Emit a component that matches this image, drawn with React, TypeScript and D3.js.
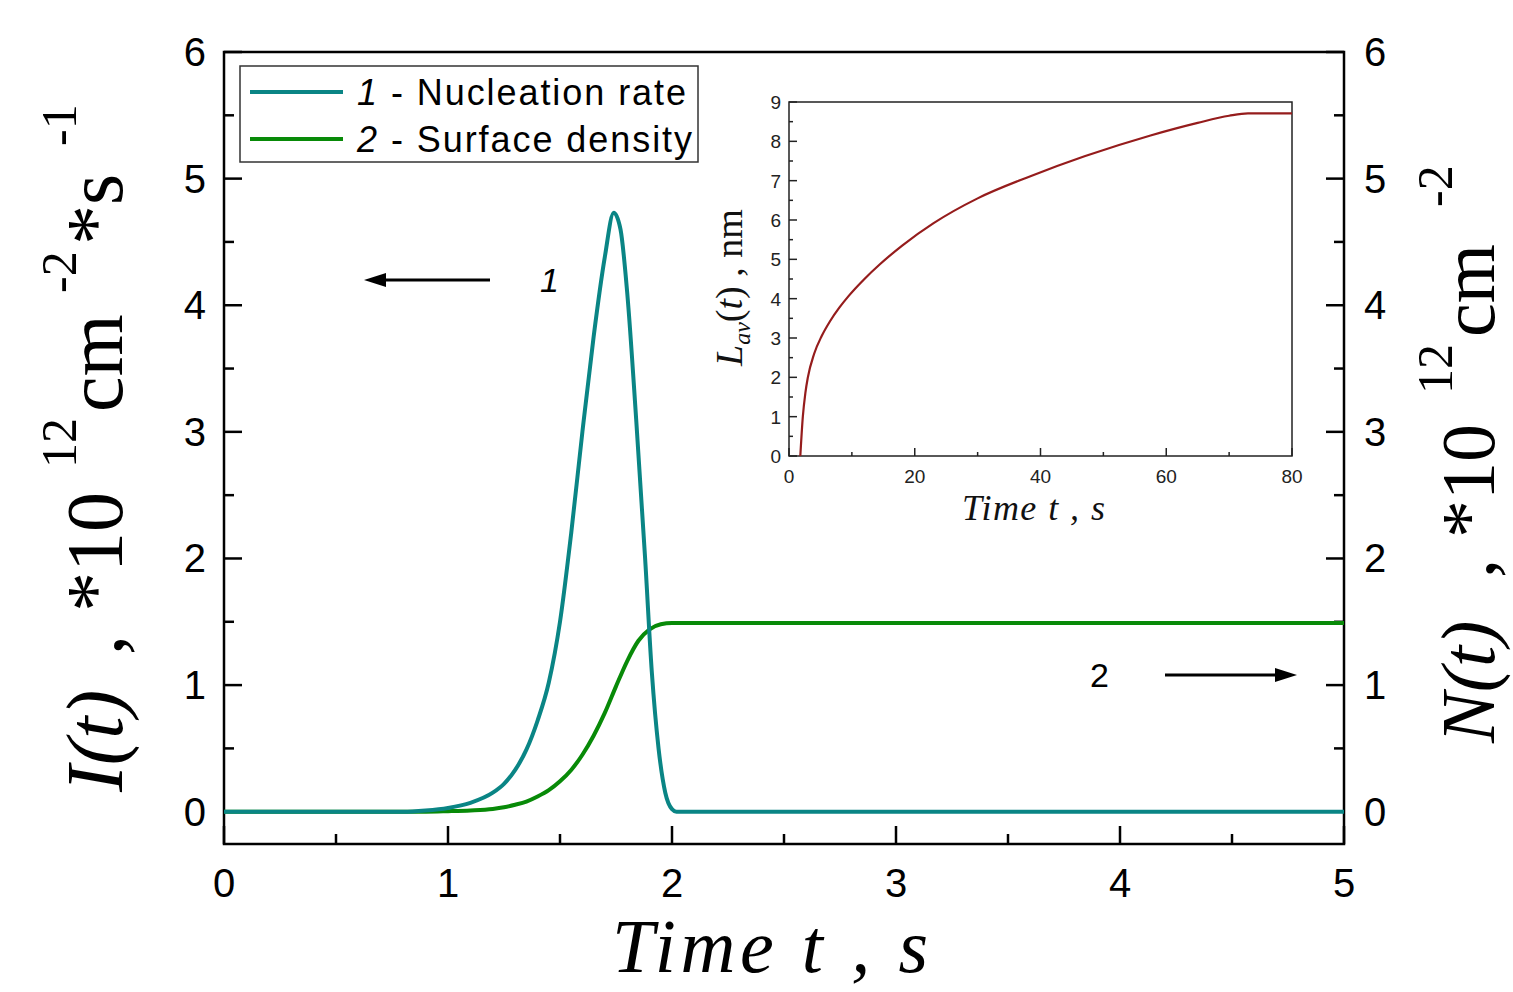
import React from "react";
import * as d3 from "d3";

// curve 1: nucleation rate I(t), 10^12 cm^-2 s^-1
const nucTime = [0, 0.8, 0.9, 1.0, 1.1, 1.2, 1.25, 1.3, 1.35, 1.4, 1.45, 1.5, 1.55, 1.6, 1.65, 1.7, 1.74, 1.77, 1.8, 1.84, 1.88, 1.91, 1.94, 1.97, 2.0, 2.02, 5];
const nucRate = [0, 0, 0.01, 0.03, 0.07, 0.15, 0.22, 0.33, 0.49, 0.72, 1.02, 1.5, 2.2, 3.0, 3.75, 4.38, 4.73, 4.6, 4.1, 3.1, 2.0, 1.1, 0.5, 0.15, 0.02, 0, 0];

// curve 2: surface density N(t), 10^12 cm^-2
const denTime = [0, 0.9, 1.0, 1.1, 1.2, 1.25, 1.3, 1.35, 1.4, 1.45, 1.5, 1.55, 1.6, 1.65, 1.7, 1.75, 1.8, 1.85, 1.9, 1.95, 2.0, 5];
const denValue = [0, 0, 0.004, 0.01, 0.022, 0.035, 0.055, 0.08, 0.12, 0.17, 0.24, 0.33, 0.45, 0.6, 0.78, 0.99, 1.19, 1.35, 1.44, 1.48, 1.49, 1.49];

// inset: average length L_av(t), nm
const insetTime = [1.8, 2.2, 2.6, 3.0, 4.0, 5.2, 6.5, 8, 9.5, 12, 14.5, 18, 23, 30, 38.5, 47, 57.5, 65, 70, 73, 80];
const insetLen = [0, 1.0, 1.6, 2.0, 2.6, 3.05, 3.42, 3.77, 4.07, 4.5, 4.88, 5.35, 5.92, 6.55, 7.12, 7.62, 8.15, 8.47, 8.65, 8.71, 8.71];

const xTicks = [0, 1, 2, 3, 4, 5];
const yTicks = [0, 1, 2, 3, 4, 5, 6];
const insetXTicks = [0, 20, 40, 60, 80];
const insetYTicks = [0, 1, 2, 3, 4, 5, 6, 7, 8, 9];

const SANS = "'Liberation Sans', Arial, sans-serif";
const SERIF = "'Liberation Serif', 'Times New Roman', serif";
const TEAL = "#0a8585";
const GREEN = "#088a08";
const DARKRED = "#951c1c";

export default function App() {
  const x = d3.scaleLinear().domain([0, 5]).range([224, 1344]);
  const y = d3.scaleLinear().domain([-0.255, 6]).range([844, 52]);
  const ix = d3.scaleLinear().domain([0, 80]).range([789, 1292]);
  const iy = d3.scaleLinear().domain([0, 9]).range([456, 102]);

  const line = (xs: number[], ys: number[], sx: any, sy: any) =>
    d3
      .line<number>()
      .x((_, i) => sx(xs[i]))
      .y((d) => sy(d))
      .curve(d3.curveMonotoneX)(ys) as string;

  const xMinor = d3.range(0.5, 5, 1);
  const yMinor = d3.range(-0.5, 6, 1).filter((v) => v > -0.255);
  const ixMinor = d3.range(10, 80, 20);
  const iyMinor = d3.range(0.5, 9, 1);

  const leftPieces = [
    { t: "I(t)", at: 792, italic: true, sup: false },
    { t: ",", at: 655, italic: false, sup: false },
    { t: "*10", at: 612, italic: false, sup: false },
    { t: "12", at: 468, italic: false, sup: true },
    { t: "cm", at: 412, italic: false, sup: false },
    { t: "-2", at: 293, italic: false, sup: true },
    { t: "*s", at: 245, italic: false, sup: false },
    { t: "-1", at: 146, italic: false, sup: true },
  ];
  const rightPieces = [
    { t: "N(t)", at: 743, italic: true, sup: false },
    { t: ",", at: 578, italic: false, sup: false },
    { t: "*10", at: 538, italic: false, sup: false },
    { t: "12", at: 394, italic: false, sup: true },
    { t: "cm", at: 337, italic: false, sup: false },
    { t: "-2", at: 207, italic: false, sup: true },
  ];

  return (
    <svg width={1513} height={992} style={{ position: "absolute", left: 0, top: 0, background: "#fff" }}>
      {/* main frame */}
      <rect x={224} y={52} width={1120} height={792} fill="none" stroke="#000" strokeWidth={2.5} />

      {/* ticks */}
      {xTicks.map((t) => (
        <line key={"xt" + t} x1={x(t)} x2={x(t)} y1={844} y2={826} stroke="#000" strokeWidth={2.5} />
      ))}
      {xMinor.map((t) => (
        <line key={"xm" + t} x1={x(t)} x2={x(t)} y1={844} y2={834} stroke="#000" strokeWidth={2.5} />
      ))}
      {yTicks.map((t) => (
        <g key={"yt" + t}>
          <line x1={224} x2={242} y1={y(t)} y2={y(t)} stroke="#000" strokeWidth={2.5} />
          <line x1={1344} x2={1326} y1={y(t)} y2={y(t)} stroke="#000" strokeWidth={2.5} />
        </g>
      ))}
      {yMinor.map((t) => (
        <g key={"ym" + t}>
          <line x1={224} x2={234} y1={y(t)} y2={y(t)} stroke="#000" strokeWidth={2.5} />
          <line x1={1344} x2={1334} y1={y(t)} y2={y(t)} stroke="#000" strokeWidth={2.5} />
        </g>
      ))}

      {/* tick labels */}
      <g fontFamily={SANS} fontSize={40} fill="#000">
        {xTicks.map((t) => (
          <text key={"xl" + t} x={x(t)} y={897} textAnchor="middle">{t}</text>
        ))}
        {yTicks.map((t) => (
          <text key={"yl" + t} x={206} y={y(t) + 14} textAnchor="end">{t}</text>
        ))}
        {yTicks.map((t) => (
          <text key={"yr" + t} x={1364} y={y(t) + 14} textAnchor="start">{t}</text>
        ))}
      </g>

      {/* curves */}
      <path d={line(denTime, denValue, x, y)} fill="none" stroke={GREEN} strokeWidth={4} />
      <path d={line(nucTime, nucRate, x, y)} fill="none" stroke={TEAL} strokeWidth={4} />

      {/* axis titles */}
      <g fontFamily={SERIF} fill="#000">
        {leftPieces.map((p) => (
          <text
            key={"lp" + p.t}
            transform={`translate(${p.sup ? 76 : 122},${p.at}) rotate(-90)`}
            fontSize={p.sup ? 50 : 80}
            fontStyle={p.italic ? "italic" : "normal"}
          >
            {p.t}
          </text>
        ))}
        {rightPieces.map((p) => (
          <text
            key={"rp" + p.t}
            transform={`translate(${p.sup ? 1452 : 1494},${p.at}) rotate(-90)`}
            fontSize={p.sup ? 50 : 76}
            fontStyle={p.italic ? "italic" : "normal"}
          >
            {p.t}
          </text>
        ))}
        <text x={612} y={972} fontSize={76} fontStyle="italic" textLength={316} lengthAdjust="spacing">
          Time t , s
        </text>
      </g>

      {/* legend */}
      <rect x={240} y={66} width={458} height={96} fill="#fff" stroke="#333" strokeWidth={1.5} />
      <line x1={250} x2={343} y1={92} y2={92} stroke={TEAL} strokeWidth={4} />
      <line x1={250} x2={343} y1={139} y2={139} stroke={GREEN} strokeWidth={4} />
      <g fontFamily={SANS} fontSize={36} fill="#000">
        <text x={357} y={105} textLength={329} lengthAdjust="spacing">
          <tspan fontStyle="italic">1</tspan> - Nucleation rate
        </text>
        <text x={357} y={152} textLength={335} lengthAdjust="spacing">
          <tspan fontStyle="italic">2</tspan> - Surface density
        </text>
      </g>

      {/* arrows */}
      <line x1={490} x2={380} y1={280} y2={280} stroke="#000" strokeWidth={3} />
      <polygon points="364,280 386,273 386,287" fill="#000" />
      <text x={540} y={292} fontFamily={SANS} fontSize={34} fontStyle="italic">1</text>
      <line x1={1165} x2={1282} y1={675} y2={675} stroke="#000" strokeWidth={3} />
      <polygon points="1297,675 1275,668 1275,682" fill="#000" />
      <text x={1090} y={687} fontFamily={SANS} fontSize={34}>2</text>

      {/* inset */}
      <rect x={789} y={102} width={503} height={354} fill="#fff" stroke="#222" strokeWidth={1.5} />
      {insetXTicks.map((t) => (
        <line key={"ixt" + t} x1={ix(t)} x2={ix(t)} y1={456} y2={448} stroke="#222" strokeWidth={1.5} />
      ))}
      {ixMinor.map((t) => (
        <line key={"ixm" + t} x1={ix(t)} x2={ix(t)} y1={456} y2={452} stroke="#222" strokeWidth={1.5} />
      ))}
      {insetYTicks.map((t) => (
        <line key={"iyt" + t} x1={789} x2={797} y1={iy(t)} y2={iy(t)} stroke="#222" strokeWidth={1.5} />
      ))}
      {iyMinor.map((t) => (
        <line key={"iym" + t} x1={789} x2={793} y1={iy(t)} y2={iy(t)} stroke="#222" strokeWidth={1.5} />
      ))}
      <g fontFamily={SANS} fontSize={19} fill="#222">
        {insetXTicks.map((t) => (
          <text key={"ixl" + t} x={ix(t)} y={483} textAnchor="middle">{t}</text>
        ))}
        {insetYTicks.map((t) => (
          <text key={"iyl" + t} x={781} y={iy(t) + 7} textAnchor="end">{t}</text>
        ))}
      </g>
      <path d={line(insetTime, insetLen, ix, iy)} fill="none" stroke={DARKRED} strokeWidth={2.2} />
      <g fontFamily={SERIF} fill="#111">
        <text transform="translate(742,366) rotate(-90)" fontSize={38}>
          <tspan fontStyle="italic">L</tspan>
          <tspan fontStyle="italic" fontSize={24} dy={8}>av</tspan>
          <tspan dy={-8}>(</tspan>
          <tspan fontStyle="italic">t</tspan>
          <tspan>) , nm</tspan>
        </text>
        <text x={962} y={520} fontSize={36} fontStyle="italic" textLength={143} lengthAdjust="spacing">
          Time t , s
        </text>
      </g>
    </svg>
  );
}
